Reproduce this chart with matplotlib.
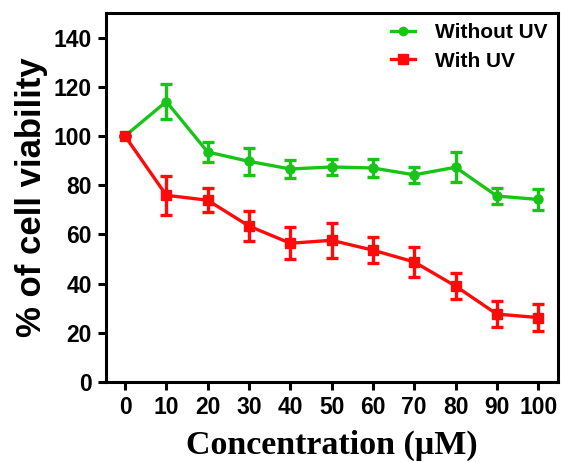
import matplotlib
matplotlib.use("Agg")
import matplotlib.pyplot as plt
from matplotlib.lines import Line2D

# Data
concentration = [0, 10, 20, 30, 40, 50, 60, 70, 80, 90, 100]
without_uv = [100, 114, 93.5, 89.7, 86.6, 87.4, 87.0, 84.2, 87.3, 75.6, 74.2]
without_uv_err = [0, 7, 4.2, 5.5, 3.6, 3.2, 3.6, 3.2, 6.0, 3.2, 4.4]
with_uv = [100, 75.9, 73.9, 63.4, 56.4, 57.6, 53.6, 48.8, 39.0, 27.6, 26.2]
with_uv_err = [0, 8.0, 4.8, 6.0, 6.6, 7.0, 5.2, 6.0, 5.2, 5.2, 5.5]

xticks = [0, 10, 20, 30, 40, 50, 60, 70, 80, 90, 100]
yticks = [0, 20, 40, 60, 80, 100, 120, 140]

GREEN = "#19c419"
RED = "#ff0a0a"

fig = plt.figure(figsize=(5.61, 4.62), dpi=100)
ax = fig.add_axes([106 / 561, 1 - 382 / 462, (558 - 106) / 561, (382 - 13) / 462])

ax.errorbar(concentration, without_uv, yerr=without_uv_err, color=GREEN,
            marker="o", markersize=6.5, linewidth=2.4, elinewidth=2.4,
            capsize=4.5, capthick=2.4, zorder=3)
ax.errorbar(concentration, with_uv, yerr=with_uv_err, color=RED,
            marker="s", markersize=7.5, linewidth=2.4, elinewidth=2.4,
            capsize=4.5, capthick=2.4, zorder=4)

ax.set_xlim(-4.6, 104.8)
ax.set_ylim(0, 150)
ax.set_xticks(xticks)
ax.set_yticks(yticks)

for side in ax.spines.values():
    side.set_linewidth(2.2)
ax.tick_params(direction="out", length=6, width=2.2, labelsize=16.5, pad=4)
for lab in ax.get_xticklabels() + ax.get_yticklabels():
    lab.set_fontfamily("Liberation Sans")
    lab.set_fontweight("bold")

ax.set_ylabel("% of cell viability", fontsize=25, fontweight="bold",
              fontfamily="Liberation Sans", labelpad=4)
ax.set_xlabel("Concentration (\u03bcM)", fontsize=24.5, fontweight="bold",
              fontfamily="Liberation Serif", labelpad=8)

# legend shows plain line + marker, no error bars
handles = [
    Line2D([], [], color=GREEN, marker="o", markersize=6, linewidth=2.4),
    Line2D([], [], color=RED, marker="s", markersize=7, linewidth=2.4),
]
ax.legend(handles, ["Without UV", "With UV"], loc="upper right", frameon=False,
          handlelength=1.15, borderaxespad=0.1, labelspacing=0.45,
          handletextpad=0.95,
          prop={"family": "Liberation Sans", "weight": "bold", "size": 15})

plt.savefig("out.png", dpi=100)
plt.close(fig)
